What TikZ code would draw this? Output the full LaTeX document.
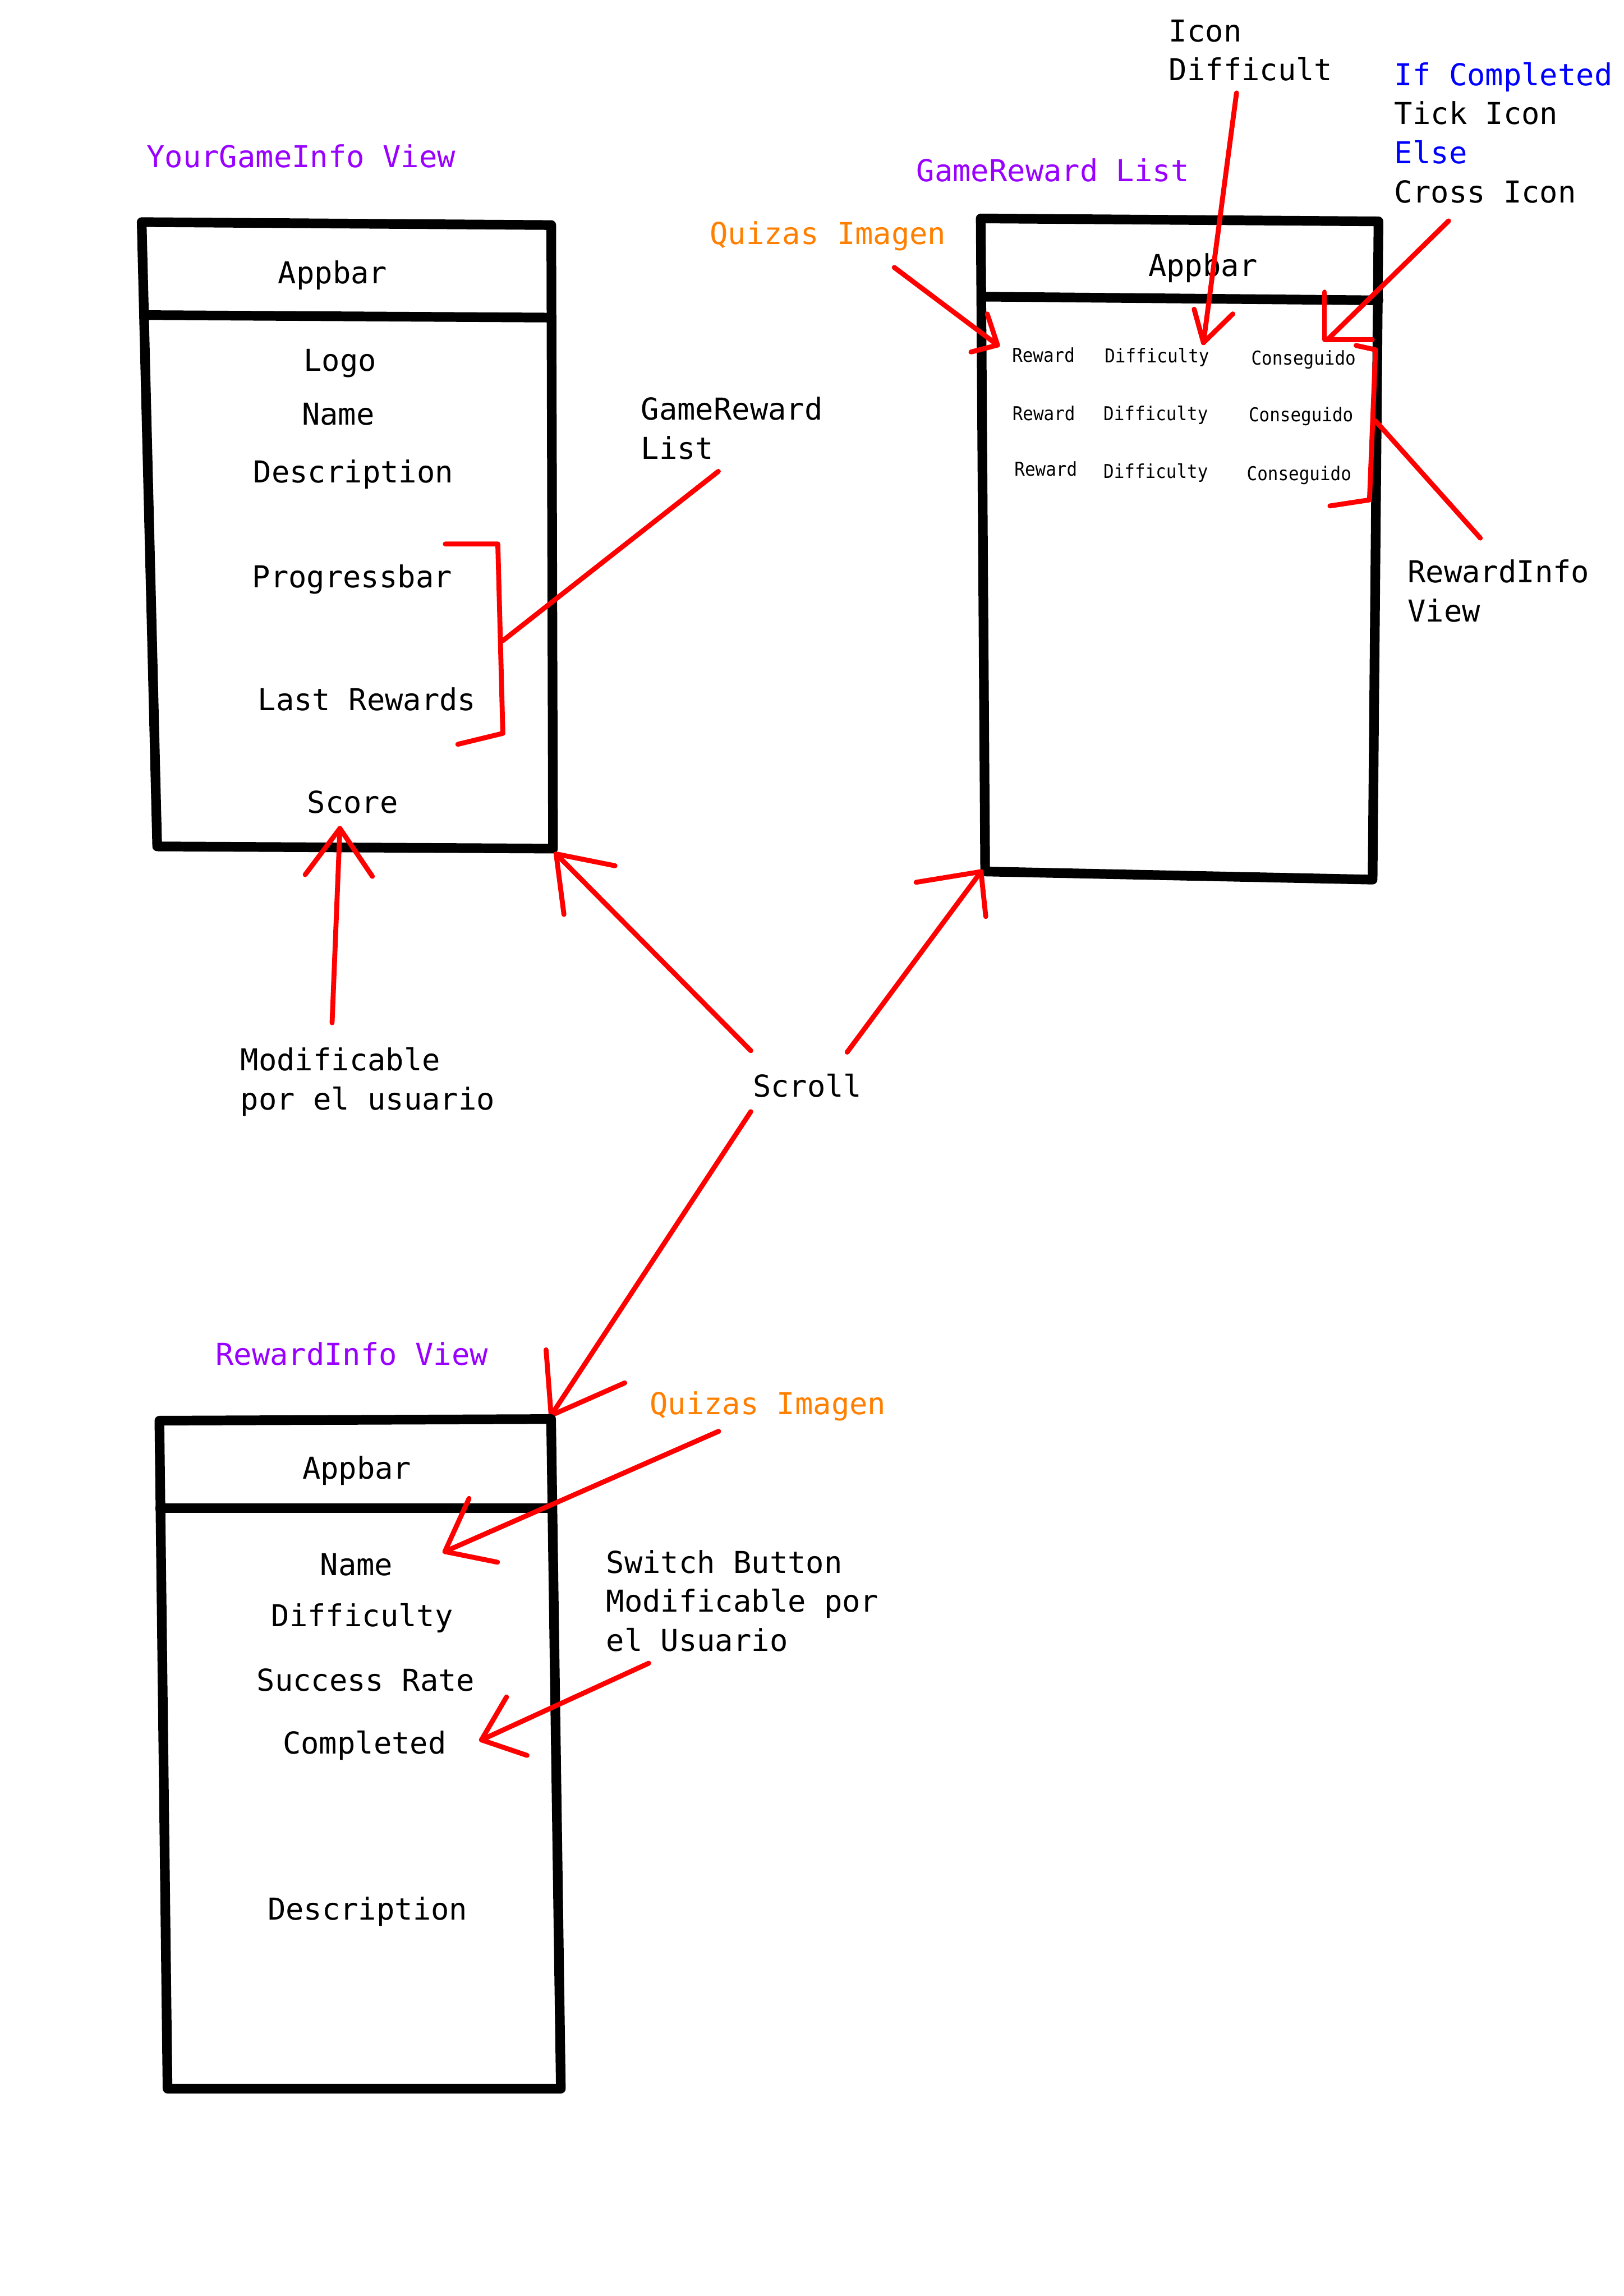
\documentclass[tikz,border=0pt]{standalone}
\usepackage{fontspec}
\setmonofont{DejaVu Sans Mono}
\definecolor{vpurple}{RGB}{153,0,255}
\definecolor{vorange}{RGB}{255,128,0}
\definecolor{vblue}{RGB}{0,0,255}
\begin{document}
\begin{tikzpicture}[x=0.02631cm,y=-0.02631cm,
  frame/.style={line width=4.9pt,line join=round,line cap=round},
  redl/.style={draw=red,line width=2.5pt,line cap=round,line join=round},
  txt/.style={font=\ttfamily\fontsize{15.3}{19.8}\selectfont,inner sep=0pt,align=left},
  tiny/.style={font=\ttfamily\fontsize{8.8}{10}\selectfont,inner sep=0pt},
  ptitle/.style={txt,text=vpurple},
  onote/.style={txt,text=vorange}]
\useasboundingbox (0,0) rectangle (1100,1555.7);
\fill[white] (0,0) rectangle (1100,1555.7);

% ---------- YourGameInfo View ----------
\node[ptitle,anchor=base west] (t1) at (99.1,113.4) {YourGameInfo View};
\draw[frame] (96,150.5) -- (373.5,152.5) -- (374.7,575) -- (106.5,573.5) -- cycle;
\draw[frame] (100,213.5) -- (373.5,215.2);
\node[txt,anchor=base] (a1) at (225.4,192.1) {Appbar};
\node[txt,anchor=base] (logo) at (230.4,251.5) {Logo};
\node[txt,anchor=base] (name1) at (229.1,287.8) {Name};
\node[txt,anchor=base] (desc1) at (239.4,326.9) {Description};
\node[txt,anchor=base] (prog) at (238.6,398.1) {Progressbar};
\node[txt,anchor=base] (last) at (248.6,481.3) {Last Rewards};
\node[txt,anchor=base] (score) at (239,550.9) {Score};
\node[txt,anchor=north west] (grl) at (434.1,268.7) {GameReward\\List};
\node[txt,anchor=north west] (modif) at (162.7,709.6) {Modificable\\por el usuario};

\coordinate (b1) at (301.7,368.6);
\coordinate (b2) at (337.3,368.6);
\coordinate (b3) at (340.7,496.9);
\coordinate (b4) at (310.2,504.3);
\draw[redl] (b1) -- (b2) -- (b3) -- (b4);
\coordinate (bm) at (340.7,434.1);
\coordinate (grlend) at (486.7,319.4);
\draw[redl] (grlend) -- (bm);

\coordinate (sc0) at (225,693);
\coordinate (sc1) at (230.3,561.3);
\draw[redl] (sc0) -- (sc1);
\draw[redl] (206.8,592.6) -- (sc1) -- (252.3,593.8);

% ---------- GameReward List ----------
\node[ptitle,anchor=base west] (t2) at (620.7,123.1) {GameReward List};
\node[onote,anchor=base west] (q1) at (480.7,165.5) {Quizas Imagen};
\node[txt,anchor=north west] (icon) at (791.8,13) {Icon\\Difficult};
\node[txt,anchor=north west] (ifc) at (944.6,42) {\textcolor{vblue}{If Completed}\\Tick Icon\\\textcolor{vblue}{Else}\\Cross Icon};
\node[txt,anchor=north west] (rinfo) at (953.5,379.1) {RewardInfo\\View};
\draw[frame] (664.5,148) -- (934,150) -- (930,596) -- (667.5,590.5) -- cycle;
\draw[frame] (665.5,201) -- (934,203.5);
\node[txt,anchor=base] (a2) at (815,187.1) {Appbar};

\foreach \n/\x/\y/\s in {r1/707/240.4/Reward, d1/783.9/241/Difficulty, c1/883.2/242.3/Conseguido,
  r2/707.2/280.1/Reward, d2/783.1/280/Difficulty, c2/881.5/281/Conseguido,
  r3/708.6/317.6/Reward, d3/783.1/319.2/Difficulty, c3/880.2/320.8/Conseguido}
  \node[tiny,anchor=base] (\n) at (\x,\y+4.8) {\scalebox{1}[1.1]{\s}};

\coordinate (q1s) at (605.9,181.2);
\coordinate (q1t) at (675.9,233.8);
\draw[redl] (q1s) -- (q1t);
\draw[redl] (668.9,212.7) -- (q1t) -- (657.9,238.5);

\coordinate (ics) at (837.8,63);
\coordinate (ict) at (815.4,232.2);
\draw[redl] (ics) -- (ict);
\draw[redl] (809.1,209.5) -- (ict) -- (835.3,212.7);

\coordinate (crs) at (981.5,149.7);
\coordinate (crt) at (899.6,230);
\draw[redl] (crs) -- (crt);
\draw[redl] (897.4,197.9) -- (897.4,230) -- (929.8,230);

\coordinate (rb1) at (918.8,234.1);
\coordinate (rb2) at (932,237);
\coordinate (rb3) at (927.9,338.7);
\coordinate (rb4) at (901.1,342.8);
\draw[redl] (rb1) -- (rb2) -- (rb3) -- (rb4);
\coordinate (rbm) at (932,285.2);
\coordinate (rie) at (1003,364.6);
\draw[redl] (rbm) -- (rie);

% ---------- Scroll ----------
\node[txt,anchor=base] (scroll) at (547,743.2) {Scroll};
\coordinate (s1a) at (508.7,711.9);
\coordinate (s1t) at (376.8,578.6);
\draw[redl] (s1a) -- (s1t);
\draw[redl] (416.7,586.6) -- (s1t) -- (382.1,619.6);
\coordinate (s2a) at (574,712.9);
\coordinate (s2t) at (664.7,590.6);
\draw[redl] (s2a) -- (s2t);
\draw[redl] (620.7,597.8) -- (s2t) -- (667.9,621);
\coordinate (s3a) at (508.7,753.2);
\coordinate (s3t) at (373.4,959);
\draw[redl] (s3a) -- (s3t);
\draw[redl] (370,914.6) -- (s3t) -- (423.3,937);

% ---------- RewardInfo View ----------
\node[ptitle,anchor=base west] (t3) at (145.8,924.8) {RewardInfo View};
\node[onote,anchor=base west] (q2) at (440,958.4) {Quizas Imagen};
\node[txt,anchor=north west] (sw) at (410.5,1050) {Switch Button\\Modificable por\\el Usuario};
\draw[frame] (108,962.6) -- (373.4,961.5) -- (380,1415.2) -- (113.5,1415.2) -- cycle;
\draw[frame] (108.5,1022) -- (374,1022);
\node[txt,anchor=base] (a3) at (241.8,1002) {Appbar};
\node[txt,anchor=base] (name3) at (241.5,1067.5) {Name};
\node[txt,anchor=base] (diff3) at (245.4,1102) {Difficulty};
\node[txt,anchor=base] (succ) at (247.8,1145.7) {Success Rate};
\node[txt,anchor=base] (comp) at (247,1188.2) {Completed};
\node[txt,anchor=base] (desc3) at (249,1300.9) {Description};

\coordinate (q2s) at (486.9,969.8);
\coordinate (q2t) at (301.4,1051.3);
\draw[redl] (q2s) -- (q2t);
\draw[redl] (317.8,1015.3) -- (q2t) -- (337.1,1058.5);

\coordinate (sws) at (439.6,1126.9);
\coordinate (swt) at (326.2,1178.9);
\draw[redl] (sws) -- (swt);
\draw[redl] (343.2,1149.8) -- (swt) -- (357.1,1189.4);
\end{tikzpicture}
\end{document}
